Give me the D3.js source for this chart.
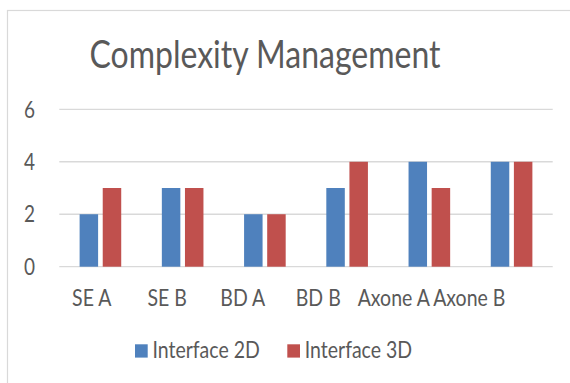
<!DOCTYPE html>
<html>
<head>
<meta charset="utf-8">
<script src="https://d3js.org/d3.v7.min.js"></script>
<style>
  html, body { margin: 0; padding: 0; background: #fff; }
  svg { display: block; }
  text { font-family: Lato, "Open Sans", sans-serif; fill: #595959; }
</style>
</head>
<body>
<div id="chart"></div>
<script>
// chart data
const categories = ['SE A', 'SE B', 'BD A', 'BD B', 'Axone A', 'Axone B'];
const seriesNames = ['Interface 2D', 'Interface 3D'];
const values2D = [2, 3, 2, 3, 4, 4];
const values3D = [3, 3, 2, 4, 3, 4];
const yTicks = [0, 2, 4, 6];
const colors = ['#4F81BD', '#C0504D'];

(function() {
  'use strict';

  const W = 570, H = 383;
  const stretch = 1.2; // text in the picture is a little taller than wide

  const svg = d3.select('#chart').append('svg')
    .attr('width', W).attr('height', H);

  // outer frame
  svg.append('rect')
    .attr('x', 7.5).attr('y', 10.5)
    .attr('width', W + 20).attr('height', H + 20)
    .attr('fill', 'none').attr('stroke', '#d9d9d9').attr('stroke-width', 1.2);

  // scales
  const y = d3.scaleLinear().domain([0, 6]).range([266.7, 109.3]);
  const x0 = d3.scaleBand().domain(categories).range([59.3, 552.7]).padding(0);
  const bw = x0.bandwidth();
  const x1 = d3.scaleBand().domain(seriesNames)
    .range([bw * 0.247, bw * 0.753]).paddingInner(0.2).paddingOuter(0);
  const xLabel = d3.scaleBand().domain(categories).range([54, 507]).padding(0);

  const rows = categories.map((c, i) => ({
    cat: c,
    vals: [
      { s: seriesNames[0], v: values2D[i], c: colors[0] },
      { s: seriesNames[1], v: values3D[i], c: colors[1] }
    ]
  }));

  // gridlines
  svg.append('g').selectAll('line')
    .data(yTicks).enter().append('line')
    .attr('x1', x0.range()[0]).attr('x2', x0.range()[1])
    .attr('y1', d => y(d)).attr('y2', d => y(d))
    .attr('stroke', '#d9d9d9').attr('stroke-width', 1.3);

  // y labels
  svg.append('g').selectAll('text')
    .data(yTicks).enter().append('text')
    .attr('transform', d => `translate(35,${y(d)}) scale(1,${stretch})`)
    .attr('text-anchor', 'end')
    .attr('dy', '0.36em')
    .style('font-size', '19px')
    .text(d => d);

  // bars
  const groups = svg.append('g').selectAll('g')
    .data(rows).enter().append('g')
    .attr('transform', d => `translate(${x0(d.cat)},0)`);

  groups.selectAll('rect')
    .data(d => d.vals).enter().append('rect')
    .attr('x', d => x1(d.s))
    .attr('y', d => y(d.v))
    .attr('width', x1.bandwidth())
    .attr('height', d => y(0) - y(d.v))
    .attr('fill', d => d.c);

  // x labels
  svg.append('g').selectAll('text')
    .data(categories).enter().append('text')
    .attr('transform', d => `translate(${xLabel(d) + xLabel.bandwidth() / 2},306) scale(1,${stretch})`)
    .attr('text-anchor', 'middle')
    .style('font-size', '19.5px')
    .text(d => d);

  // title
  svg.append('text')
    .attr('transform', `translate(265,68) scale(1,${stretch})`)
    .attr('text-anchor', 'middle')
    .style('font-size', '32px')
    .text('Complexity Management');

  // legend
  const legendX = [135, 287.3];
  const legend = svg.append('g').selectAll('g')
    .data(seriesNames).enter().append('g')
    .attr('transform', (d, i) => `translate(${legendX[i]},344.3)`);

  legend.append('rect')
    .attr('width', 12.7).attr('height', 13.3)
    .attr('fill', (d, i) => colors[i]);

  legend.append('text')
    .attr('transform', `translate(17.5,14) scale(1,${stretch})`)
    .style('font-size', '19.5px')
    .text(d => d);
})();
</script>
</body>
</html>
